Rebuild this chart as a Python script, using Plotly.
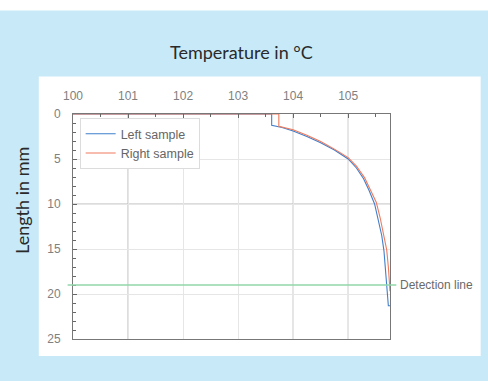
import plotly.graph_objects as go

# Data
left_temp = [100.0, 103.61, 103.61, 103.8, 104.0, 104.25, 104.5, 104.75, 105.0, 105.15,
             105.28, 105.38, 105.48, 105.55, 105.61, 105.65, 105.68, 105.70, 105.71, 105.73, 105.76]
left_len = [0.0, 0.0, 1.26, 1.5, 1.9, 2.5, 3.2, 4.0, 5.0, 6.0,
            7.2, 8.5, 10.0, 11.8, 13.5, 15.2, 17.5, 19.0, 20.5, 21.3, 21.3]
right_temp = [100.0, 103.74, 103.74, 104.0, 104.25, 104.5, 104.75, 105.0, 105.15, 105.3,
              105.4, 105.51, 105.58, 105.64, 105.70, 105.73, 105.75, 105.76]
right_len = [0.0, 0.0, 1.37, 1.75, 2.35, 3.05, 3.9, 4.85, 5.8, 7.1,
             8.4, 9.8, 11.5, 13.3, 15.1, 17.0, 19.0, 19.7]
detection_length = 19.0
x_range = [100, 105.76]
y_range = [25, 0]

BLUE = "#3f7fcc"
RED = "#f07a5c"
BG = "#c7e9f8"

fig = go.Figure()
fig.add_trace(go.Scatter(x=left_temp, y=left_len, mode="lines", name="Left sample",
                         line=dict(color=BLUE, width=1.1)))
fig.add_trace(go.Scatter(x=right_temp, y=right_len, mode="lines", name="Right sample",
                         line=dict(color=RED, width=1.1)))

shapes = [
    # white strip at top
    dict(type="rect", xref="paper", yref="paper", x0=-0.5, x1=1.6, y0=1.46, y1=1.7,
         fillcolor="white", line=dict(width=0), layer="below"),
    # white panel
    dict(type="rect", xref="paper", yref="paper", x0=-0.108, x1=1.286, y0=-0.0755, y1=1.167,
         fillcolor="white", line=dict(width=0), layer="below"),
]
# darker grid lines
for xv in [101, 104, 105]:
    shapes.append(dict(type="line", xref="x", yref="paper", x0=xv, x1=xv, y0=0, y1=1,
                       line=dict(color="#b8b8b8", width=1), layer="below"))
shapes.append(dict(type="line", xref="paper", yref="y", x0=0, x1=1, y0=10, y1=10,
                   line=dict(color="#b8b8b8", width=1), layer="below"))
# detection line
shapes.append(dict(type="line", xref="paper", yref="y", x0=-0.017, x1=1.02,
                   y0=detection_length, y1=detection_length,
                   line=dict(color="#92d6a9", width=1.5)))

annotations = [
    dict(text="Detection line", xref="paper", yref="y", x=1.025, y=detection_length,
         xanchor="left", yanchor="middle", showarrow=False,
         font=dict(size=12, color="#6a6a6a", family="Liberation Sans")),
    dict(text="Temperature in °C", xref="paper", yref="paper", x=0.533, y=(339 - 52) / 225.3,
         xanchor="center", yanchor="middle", showarrow=False,
         font=dict(size=18, color="#2a2a2a", family="Lato")),
    dict(text="Length in mm", xref="paper", yref="paper", x=(22 - 73.3) / 317, y=(339 - 200) / 225.3,
         xanchor="center", yanchor="middle", showarrow=False, textangle=-90,
         font=dict(size=18, color="#2a2a2a", family="Lato")),
]

fig.update_layout(
    width=488, height=381,
    margin=dict(l=73, r=98, t=114, b=42),
    paper_bgcolor=BG, plot_bgcolor="rgba(0,0,0,0)",
    shapes=shapes, annotations=annotations,
    showlegend=True,
    legend=dict(x=0.021, y=0.982, xanchor="left", yanchor="top",
                bgcolor="white", bordercolor="#dcdcdc", borderwidth=1,
                font=dict(size=12.5, color="#666666", family="Liberation Sans"),
                itemwidth=30, tracegroupgap=0),
    font=dict(family="Liberation Sans", size=12, color="#808080"),
)
fig.update_xaxes(range=x_range, side="top", dtick=1, tick0=100,
                 showgrid=True, gridcolor="#e6e6e6", gridwidth=1,
                 ticks="inside", ticklen=4, tickcolor="#666",
                 minor=dict(dtick=0.5, ticks="inside", ticklen=3, tickcolor="#666", showgrid=False),
                 showline=True, linecolor="#777", linewidth=1, mirror=True,
                 zeroline=False, ticklabelstandoff=8,
                 tickfont=dict(size=12, color="#808080"))
fig.update_yaxes(range=y_range, dtick=5, tick0=0,
                 showgrid=True, gridcolor="#e6e6e6", gridwidth=1,
                 ticks="inside", ticklen=4, tickcolor="#666",
                 minor=dict(dtick=1, ticks="inside", ticklen=3, tickcolor="#666", showgrid=False),
                 showline=True, linecolor="#777", linewidth=1, mirror=True,
                 zeroline=False, ticklabelstandoff=9,
                 tickfont=dict(size=12, color="#808080"))

fig.write_html("out.html", config={"displayModeBar": False},
               post_script="document.body.style.margin='0px';")
